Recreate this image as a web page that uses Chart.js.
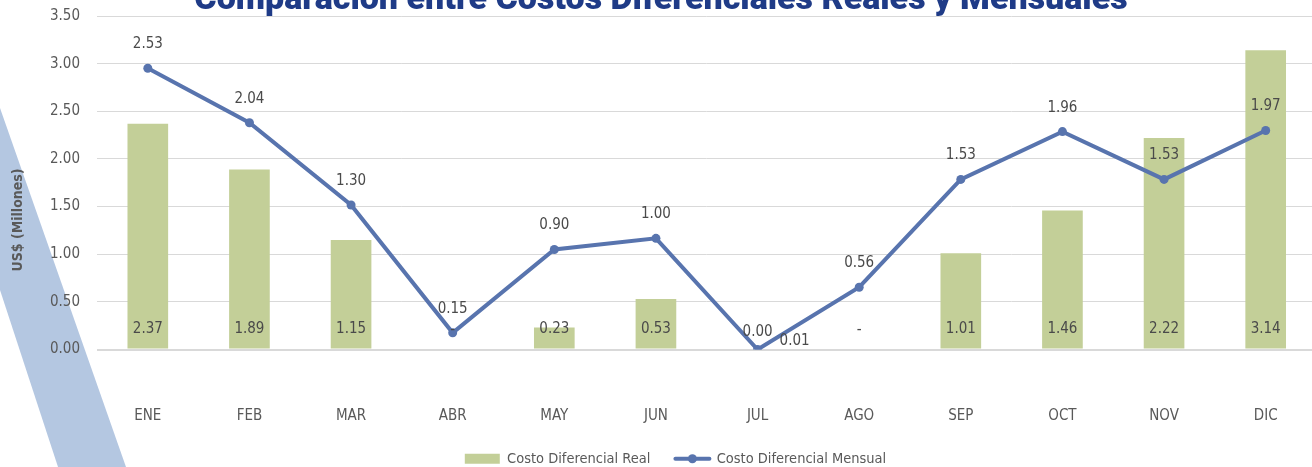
<!DOCTYPE html>
<html>
<head>
<meta charset="utf-8">
<title>Costos Diferenciales</title>
<script src="https://cdn.jsdelivr.net/npm/chart.js@4"></script>
<style>
  html, body { margin: 0; padding: 0; background: #fff; }
  #wrap { position: relative; width: 1312px; height: 467px; overflow: hidden; }
  /* diagonal band behind the axis */
  #band {
    position: absolute; left: 0; top: 0; width: 140px; height: 467px;
    background: #b4c7e1;
    clip-path: polygon(0 108px, 126px 467px, 58px 467px, 0 290px);
  }
  #myChart { position: absolute; left: 0; top: 0; }
</style>
</head>
<body>
<div id="wrap">
  <div id="band"></div>
  <canvas id="myChart" width="1321" height="476"></canvas>
</div>
<script>
var months = ['ENE', 'FEB', 'MAR', 'ABR', 'MAY', 'JUN', 'JUL', 'AGO', 'SEP', 'OCT', 'NOV', 'DIC'];
var costoReal = [2.37, 1.89, 1.15, 0, 0.23, 0.53, 0.01, 0, 1.01, 1.46, 2.22, 3.14];
var costoMensual = [2.53, 2.04, 1.30, 0.15, 0.90, 1.00, 0.00, 0.56, 1.53, 1.96, 1.53, 1.97];

var titulo = 'Comparación entre Costos Diferenciales Reales y Mensuales';
var ejeY = 'US$ (Millones)';

var narrow = "'Liberation Sans Narrow', 'DejaVu Sans Condensed', sans-serif";
var verde = '#c3cf98';
var azul = '#5874ae';
var gris = '#595959';

Chart.defaults.font.family = narrow;
Chart.defaults.font.size = 15;
Chart.defaults.color = gris;

// title, axis title and value labels
const textos = {
  id: 'textos',
  afterDatasetsDraw(chart) {
    const ctx = chart.ctx;
    ctx.save();
    ctx.font = '15px ' + narrow;
    ctx.fillStyle = '#4a4a4a';
    ctx.textAlign = 'center';
    ctx.textBaseline = 'middle';

    chart.getDatasetMeta(1).data.forEach(function (bar, i) {
      var v = costoReal[i];
      var x = bar.x, y = bar.base - 19;
      if (v > 0 && v < 0.05) { x += 37; y = bar.base - 7; }
      ctx.fillText(v === 0 ? '-' : v.toFixed(2), x, y);
    });
    chart.getDatasetMeta(0).data.forEach(function (pt, i) {
      var v = costoMensual[i];
      ctx.fillText(v.toFixed(2), pt.x, pt.y - (v === 0 ? 17 : 24));
    });

    ctx.font = '900 34px Roboto, sans-serif';
    ctx.fillStyle = '#1f3b87';
    ctx.textBaseline = 'alphabetic';
    ctx.fillText(titulo, 661, 9);

    ctx.translate(18, 220);
    ctx.rotate(-Math.PI / 2);
    ctx.font = 'bold 14px ' + narrow;
    ctx.fillStyle = gris;
    ctx.textBaseline = 'middle';
    ctx.fillText(ejeY, 0, 0);
    ctx.restore();
  },
  afterDraw(chart) {
    // line glyph for the second legend entry
    const hb = chart.legend.legendHitBoxes[1];
    if (!hb) return;
    const ctx = chart.ctx;
    const cy = hb.top + hb.height / 2;
    ctx.save();
    ctx.strokeStyle = azul;
    ctx.fillStyle = azul;
    ctx.lineWidth = 4;
    ctx.lineCap = 'round';
    ctx.beginPath();
    ctx.moveTo(hb.left + 1, cy);
    ctx.lineTo(hb.left + 35, cy);
    ctx.stroke();
    ctx.beginPath();
    ctx.arc(hb.left + 18, cy, 4.5, 0, Math.PI * 2);
    ctx.fill();
    ctx.restore();
  }
};

const ctx = document.getElementById('myChart').getContext('2d');
const myChart = new Chart(ctx, {
  data: {
    labels: months,
    datasets: [{
      type: 'line',
      label: 'Costo Diferencial Mensual',
      data: costoMensual,
      yAxisID: 'y1',
      borderColor: azul,
      backgroundColor: azul,
      borderWidth: 4,
      pointRadius: 4.5,
      pointBackgroundColor: azul,
      pointBorderWidth: 0,
      tension: 0,
      order: 0
    }, {
      type: 'bar',
      label: 'Costo Diferencial Real',
      data: costoReal,
      yAxisID: 'y',
      backgroundColor: verde,
      barPercentage: 0.4,
      categoryPercentage: 1,
      order: 1
    }]
  },
  options: {
    responsive: false,
    animation: false,
    layout: { padding: { top: 16, left: 30, right: 0, bottom: 0 } },
    plugins: {
      tooltip: { enabled: false },
      legend: {
        position: 'bottom',
        labels: {
          boxWidth: 35,
          boxHeight: 10,
          padding: 24,
          color: gris,
          font: { size: 14.5 },
          sort: function (a, b) { return b.datasetIndex - a.datasetIndex; },
          generateLabels: function (chart) {
            var items = Chart.defaults.plugins.legend.labels.generateLabels(chart);
            items.forEach(function (it) {
              it.lineWidth = 0;
              if (it.datasetIndex === 0) {
                it.fillStyle = 'rgba(0,0,0,0)';
                it.strokeStyle = 'rgba(0,0,0,0)';
              }
            });
            return items;
          }
        }
      }
    },
    scales: {
      x: {
        grid: { display: false },
        border: { display: false },
        ticks: { padding: 50, color: gris },
        afterFit: function (s) {
          s.height = 78;
          s.paddingLeft = 0;
          s.paddingRight = 0;
        }
      },
      y: {
        min: 0,
        max: 3.5,
        ticks: {
          stepSize: 0.5,
          padding: 17,
          color: gris,
          callback: function (v) { return v.toFixed(2); }
        },
        grid: {
          drawTicks: false,
          color: '#d9d9d9',
          lineWidth: function (c) { return c.tick && c.tick.value === 0 ? 2 : 1; }
        },
        border: { display: false },
        afterFit: function (s) {
          s.width = 67;
          s.paddingTop = 0;
          s.paddingBottom = 0;
        }
      },
      y1: {
        display: false,
        min: 0,
        max: 3
      }
    }
  },
  plugins: [textos]
});
</script>
</body>
</html>
